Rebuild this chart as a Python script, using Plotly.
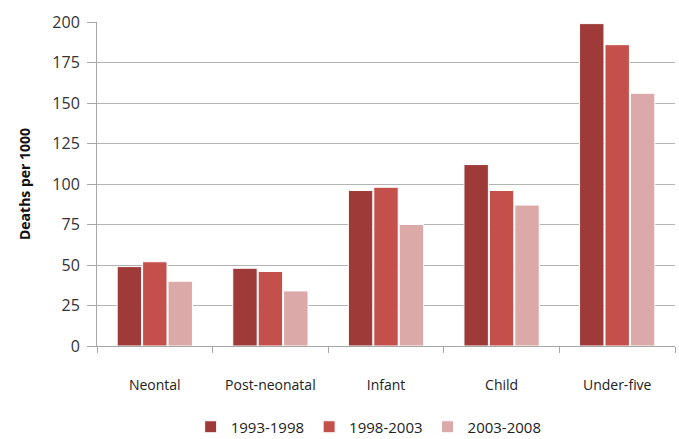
import plotly.graph_objects as go

categories = ["Neontal", "Post-neonatal", "Infant", "Child", "Under-five"]
periods = ["1993-1998", "1998-2003", "2003-2008"]
deaths_1993_1998 = [49, 48, 96, 112, 199]
deaths_1998_2003 = [52, 46, 98, 96, 186]
deaths_2003_2008 = [40, 34, 75, 87, 156]
y_ticks = [0, 25, 50, 75, 100, 125, 150, 175, 200]

colors = ["#9E3B38", "#C4504C", "#DBA9A7"]
series = [deaths_1993_1998, deaths_1998_2003, deaths_2003_2008]

fig = go.Figure()
for name, vals, col in zip(periods, series, colors):
    fig.add_trace(go.Bar(
        x=categories, y=vals, name=name,
        marker=dict(color=col, line=dict(color="white", width=1)),
    ))

font_family = "Open Sans, Liberation Sans, sans-serif"
fig.update_layout(
    width=679, height=439,
    margin=dict(l=97, r=4, t=22, b=93, autoexpand=False),
    paper_bgcolor="white", plot_bgcolor="white",
    barmode="group", bargap=0.34, bargroupgap=0.04,
    font=dict(family=font_family, size=14, color="#222222"),
    showlegend=True,
    legend=dict(orientation="h", x=0.47, xanchor="center", y=-0.25, yanchor="middle",
                font=dict(size=15, color="#222222"), itemwidth=30, traceorder="normal",
                tracegroupgap=0),
    xaxis=dict(
        automargin=False,
        showgrid=False, showline=True, linecolor="#A6A6A6", linewidth=1,
        ticks="outside", tickson="boundaries", ticklen=6, tickcolor="#A6A6A6",
        ticklabelstandoff=26, tickfont=dict(size=14, color="#222222"),
    ),
    yaxis=dict(
        automargin=False,
        range=[0, 200], tickvals=y_ticks, showgrid=True, gridcolor="#B4B4B4", gridwidth=1,
        showline=True, linecolor="#A6A6A6", linewidth=1, zeroline=False,
        ticks="outside", ticklen=9, tickcolor="#A6A6A6",
        tickfont=dict(size=16, color="#333333"), ticklabelstandoff=4,
        title=dict(text="<b>Deaths per 1000</b>", font=dict(size=14, color="#111111"), standoff=18),
    ),
)

fig.write_html("out.html")
